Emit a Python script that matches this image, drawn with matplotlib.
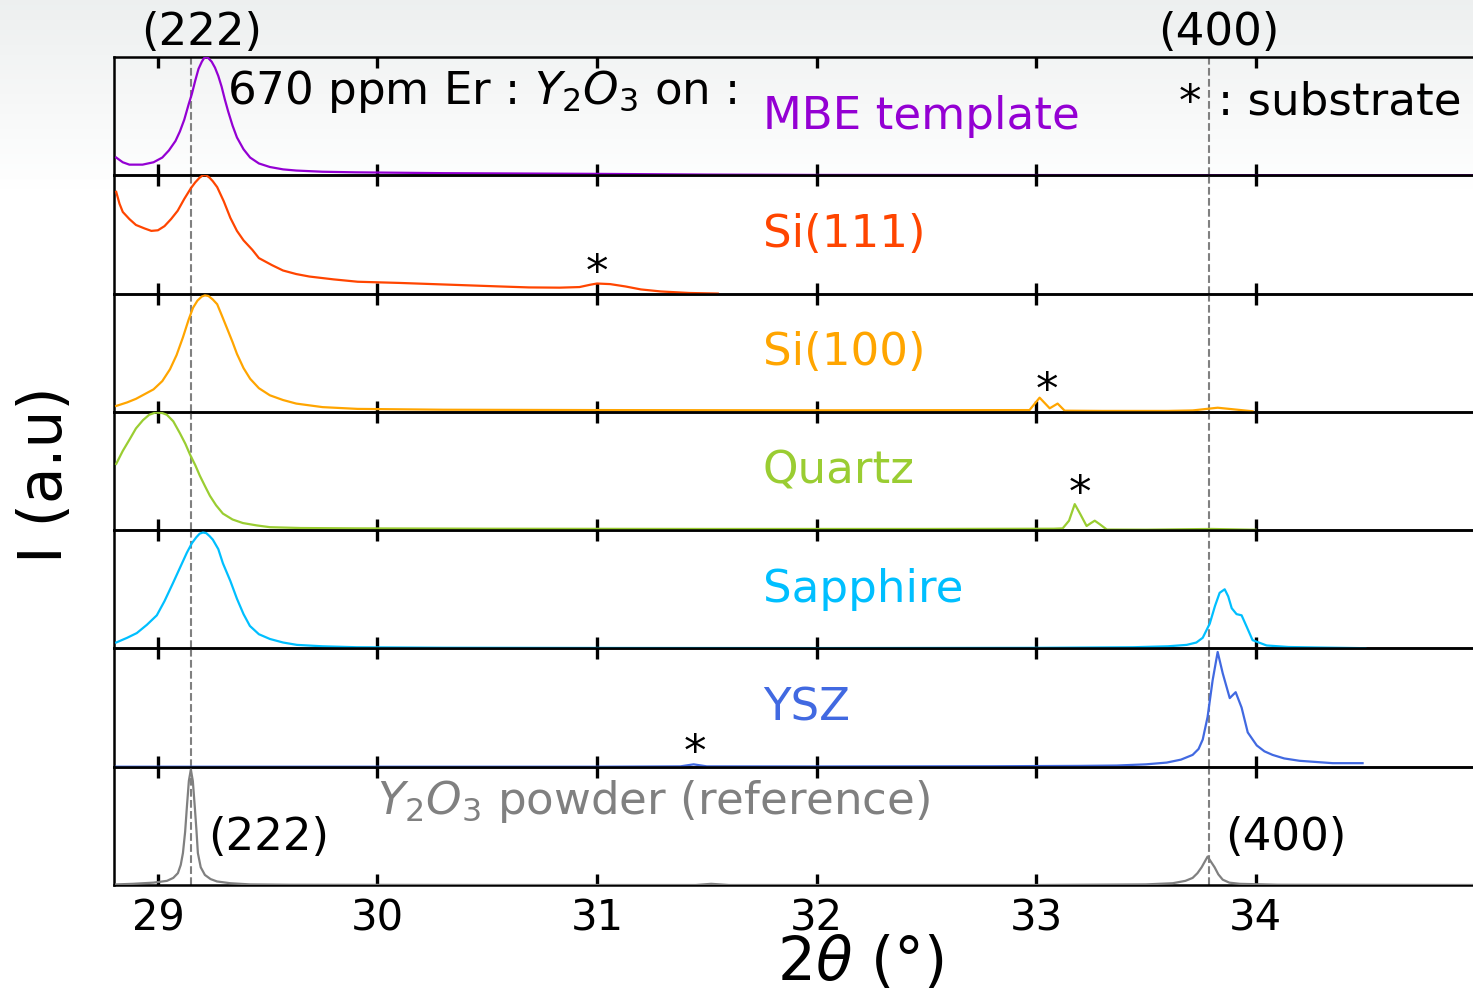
import numpy as np
import matplotlib
matplotlib.use("Agg")
import matplotlib.pyplot as plt

# ---------------- data ----------------
mbe_x = [28.81, 28.84, 28.87, 28.93, 28.98, 29.02, 29.05, 29.08, 29.10, 29.12, 29.14, 29.155, 29.17,
         29.185, 29.20, 29.21, 29.22, 29.23, 29.245, 29.26, 29.275, 29.29, 29.305, 29.32, 29.34,
         29.36, 29.39, 29.42, 29.46, 29.51, 29.57, 29.63, 29.75, 29.9, 30.3, 31.0, 31.5, 32.0, 34.99]
mbe_y = [0.15, 0.11, 0.09, 0.09, 0.11, 0.15, 0.21, 0.29, 0.37, 0.47, 0.60, 0.69, 0.80,
         0.90, 0.96, 0.99, 1.0, 0.99, 0.96, 0.91, 0.84, 0.75, 0.64, 0.54, 0.42,
         0.32, 0.22, 0.15, 0.10, 0.07, 0.05, 0.04, 0.03, 0.025, 0.018, 0.012, 0.006, 0.003, 0.0]

s111_x = [28.81, 28.825, 28.84, 28.87, 28.90, 28.94, 28.97, 29.00, 29.03, 29.06, 29.09, 29.12, 29.15,
          29.17, 29.19, 29.205, 29.22, 29.235, 29.25, 29.27, 29.30, 29.33, 29.36, 29.39, 29.43, 29.46,
          29.52, 29.57, 29.63, 29.69, 29.80, 29.91, 30.10, 30.33, 30.56, 30.69, 30.83, 30.92, 30.97,
          31.00, 31.06, 31.13, 31.20, 31.29, 31.42, 31.55]
s111_y = [0.86, 0.76, 0.69, 0.63, 0.58, 0.55, 0.53, 0.535, 0.57, 0.63, 0.70, 0.80, 0.89,
          0.94, 0.98, 1.0, 1.0, 0.98, 0.95, 0.90, 0.78, 0.64, 0.53, 0.45, 0.37, 0.30,
          0.24, 0.195, 0.165, 0.144, 0.12, 0.10, 0.09, 0.075, 0.06, 0.052, 0.05, 0.055, 0.075,
          0.085, 0.08, 0.06, 0.035, 0.018, 0.005, 0.0]

s100_x = [28.81, 28.86, 28.90, 28.94, 28.98, 29.02, 29.055, 29.085, 29.114, 29.14, 29.16, 29.18,
          29.20, 29.214, 29.23, 29.25, 29.27, 29.29, 29.314, 29.34, 29.36, 29.39, 29.42, 29.46,
          29.51, 29.57, 29.63, 29.75, 29.91, 30.3, 31.0, 32.0, 32.97, 33.016, 33.062, 33.098, 33.13,
          33.3, 33.6, 33.713, 33.827, 33.986]
s100_y = [0.05, 0.08, 0.11, 0.15, 0.19, 0.26, 0.36, 0.48, 0.63, 0.78, 0.88, 0.94,
          0.975, 0.985, 0.98, 0.95, 0.91, 0.82, 0.71, 0.59, 0.49, 0.37, 0.28, 0.20,
          0.14, 0.10, 0.07, 0.04, 0.025, 0.018, 0.015, 0.013, 0.015, 0.12, 0.03, 0.07, 0.01,
          0.008, 0.008, 0.012, 0.035, 0.005]

qz_x = [28.81, 28.84, 28.872, 28.90, 28.932, 28.96, 28.99, 29.02, 29.041, 29.07, 29.1, 29.125,
        29.146, 29.17, 29.191, 29.215, 29.237, 29.265, 29.296, 29.34, 29.387, 29.45, 29.51, 29.65,
        29.906, 30.5, 31.5, 32.5, 33.08, 33.121, 33.15, 33.176, 33.20, 33.23, 33.25, 33.267, 33.29,
        33.322, 33.5, 33.8, 34.0]
qz_y = [0.56, 0.67, 0.77, 0.86, 0.93, 0.975, 0.995, 0.99, 0.975, 0.92, 0.82, 0.73,
        0.64, 0.55, 0.46, 0.37, 0.29, 0.21, 0.14, 0.09, 0.06, 0.04, 0.025, 0.018,
        0.015, 0.012, 0.01, 0.01, 0.012, 0.015, 0.08, 0.22, 0.14, 0.035, 0.06, 0.08, 0.05,
        0.005, 0.004, 0.01, 0.003]

sa_x = [28.81, 28.86, 28.904, 28.95, 28.995, 29.03, 29.068, 29.10, 29.132, 29.155, 29.175, 29.19,
        29.205, 29.22, 29.235, 29.25, 29.275, 29.296, 29.33, 29.36, 29.39, 29.419, 29.46, 29.51,
        29.57, 29.633, 29.75, 29.906, 30.3, 31.0, 32.0, 33.0, 33.44, 33.6, 33.686, 33.73, 33.759,
        33.791, 33.815, 33.836, 33.859, 33.875, 33.891, 33.913, 33.936, 33.96, 33.986, 34.05, 34.15,
        34.278, 34.5]
sa_y = [0.05, 0.09, 0.13, 0.20, 0.28, 0.40, 0.55, 0.68, 0.81, 0.89, 0.94, 0.97,
        0.98, 0.975, 0.95, 0.92, 0.84, 0.72, 0.57, 0.42, 0.29, 0.19, 0.12, 0.08,
        0.05, 0.03, 0.018, 0.01, 0.006, 0.004, 0.003, 0.005, 0.01, 0.018, 0.03, 0.05, 0.09,
        0.21, 0.36, 0.47, 0.50, 0.44, 0.34, 0.29, 0.28, 0.18, 0.07, 0.025, 0.012, 0.008, 0.002]

ysz_x = [28.81, 30.0, 31.0, 31.38, 31.44, 31.50, 32.0, 32.8, 33.2, 33.367, 33.5, 33.595, 33.66,
         33.713, 33.74, 33.759, 33.781, 33.804, 33.827, 33.85, 33.882, 33.909, 33.936, 33.964,
         34.005, 34.04, 34.077, 34.13, 34.2, 34.351, 34.487]
ysz_y = [0.0, 0.0, 0.0, 0.003, 0.02, 0.003, 0.002, 0.004, 0.007, 0.01, 0.02, 0.035, 0.06,
         0.10, 0.15, 0.23, 0.42, 0.73, 0.97, 0.79, 0.58, 0.63, 0.50, 0.29,
         0.18, 0.13, 0.10, 0.07, 0.05, 0.03, 0.03]

pw_x = [28.81, 28.886, 28.98, 29.041, 29.07, 29.091, 29.104, 29.114, 29.124, 29.132, 29.141, 29.150,
        29.159, 29.168, 29.176, 29.182, 29.195, 29.214, 29.24, 29.269, 29.33, 29.419, 29.6, 30.5,
        31.45, 31.52, 31.6, 33.0, 33.5, 33.622, 33.68, 33.713, 33.735, 33.754, 33.781, 33.813,
        33.83, 33.85, 33.88, 33.927, 34.1, 34.99]
pw_y = [0.005, 0.01, 0.02, 0.035, 0.06, 0.10, 0.17, 0.27, 0.45, 0.66, 0.88, 0.975,
        0.88, 0.66, 0.45, 0.27, 0.15, 0.085, 0.05, 0.03, 0.015, 0.005, 0.002, 0.0,
        0.0, 0.01, 0.0, 0.0, 0.005, 0.015, 0.035, 0.06, 0.10, 0.15, 0.24, 0.15,
        0.09, 0.045, 0.02, 0.01, 0.002, 0.0]

series_x = [mbe_x, s111_x, s100_x, qz_x, sa_x, ysz_x, pw_x]
series_y = [mbe_y, s111_y, s100_y, qz_y, sa_y, ysz_y, pw_y]
labels = ["MBE template", "Si(111)", "Si(100)", "Quartz", "Sapphire", "YSZ",
          "$Y_2O_3$ powder (reference)"]
colors = ["#9400D3", "#FF4500", "#FFA500", "#9ACD32", "#00BFFF", "#4169E1", "#808080"]

# substrate peak markers (x, panel index)
star_x = [31.0, 33.05, 33.2, 31.445]
star_panel = [1, 2, 3, 5]
star_yfrac = [0.17, 0.17, 0.30, 0.115]

peak_222 = 29.15
peak_400 = 33.786
xticks = [29, 30, 31, 32, 33, 34]
xmin, xmax = 28.8, 34.99

FS = 32.5      # annotation text size
TS = 30        # tick label size
LS = 43        # axis label size

# ---------------- figure ----------------
W, H = 1473, 993
fig = plt.figure(figsize=(W / 100, H / 100), dpi=100)

# soft grey gradient at the top of the image
bg = fig.add_axes([0, 0, 1, 1], zorder=-10)
tvals = np.linspace(0, 1, 200)[:, None]
fade = np.clip(1 - tvals / 0.19, 0, 1)
top_col = np.array([0.93, 0.94, 0.94])
grad = 1 - (1 - top_col)[None, None, :] * fade[:, :, None] * np.ones((1, 2, 1))
bg.imshow(grad, extent=[0, 1, 0, 1], aspect="auto", origin="upper")
bg.set_axis_off()

left = 114 / W
right = 1.0
top = 1 - 57 / H
bottom = 1 - 885 / H
n = 7
ph = (top - bottom) / n

axes = []
for i in range(n):
    y0 = top - (i + 1) * ph
    ax = fig.add_axes([left, y0, right - left, ph])
    ax.set_facecolor("none")
    ax.plot(series_x[i], series_y[i], color=colors[i], lw=1.6, zorder=3)
    ax.set_xlim(xmin, xmax)
    ax.set_ylim(0, 1.0)
    ax.axvline(peak_222, color="#808080", ls="--", lw=1.5, zorder=1)
    ax.axvline(peak_400, color="#808080", ls="--", lw=1.5, zorder=1)
    ax.set_yticks([])
    ax.set_xticks(xticks)
    ax.tick_params(axis="x", direction="in", top=True, bottom=True, length=8,
                   width=2.4, labelsize=TS, pad=9)
    if i < n - 1:
        ax.tick_params(axis="x", labelbottom=False)
    ax.spines["right"].set_visible(False)
    for s in ["left", "top", "bottom"]:
        ax.spines[s].set_linewidth(1.8)
    tr = ax.get_xaxis_transform()
    if i < n - 1:
        ax.text(31.755, 0.50, labels[i], color=colors[i], fontsize=FS, ha="left",
                va="center", transform=tr)
    else:
        ax.text(30.0, 0.71, labels[i], color=colors[i], fontsize=FS, ha="left",
                va="center", transform=tr)
    axes.append(ax)

for sx, sp, sy in zip(star_x, star_panel, star_yfrac):
    axes[sp].text(sx, sy, "*", fontsize=FS, ha="center", va="center",
                  transform=axes[sp].get_xaxis_transform())

a0 = axes[0]
tr0 = a0.get_xaxis_transform()
a0.text(29.2, 1.21, "(222)", fontsize=FS, ha="center", va="center", transform=tr0, clip_on=False)
a0.text(33.83, 1.21, "(400)", fontsize=FS, ha="center", va="center", transform=tr0, clip_on=False)
a0.text(29.314, 0.71, "670 ppm Er : $Y_2O_3$ on :", fontsize=FS, ha="left", va="center",
        transform=tr0)
a0.text(33.70, 0.61, "*", fontsize=FS, ha="center", va="center", transform=tr0)
a0.text(33.827, 0.62, ": substrate", fontsize=FS, ha="left", va="center", transform=tr0)

a6 = axes[-1]
tr6 = a6.get_xaxis_transform()
a6.text(29.228, 0.40, "(222)", fontsize=FS, ha="left", va="center", transform=tr6)
a6.text(33.86, 0.40, "(400)", fontsize=FS, ha="left", va="center", transform=tr6)

fig.text(45 / W, 1 - 475 / H, "I (a.u)", rotation=90, fontsize=LS, ha="center", va="center")
fig.text(860 / W, 1 - 963 / H, r"$2\theta$ (°)", fontsize=LS, ha="center", va="center")

fig.savefig("out.png", dpi=100)
